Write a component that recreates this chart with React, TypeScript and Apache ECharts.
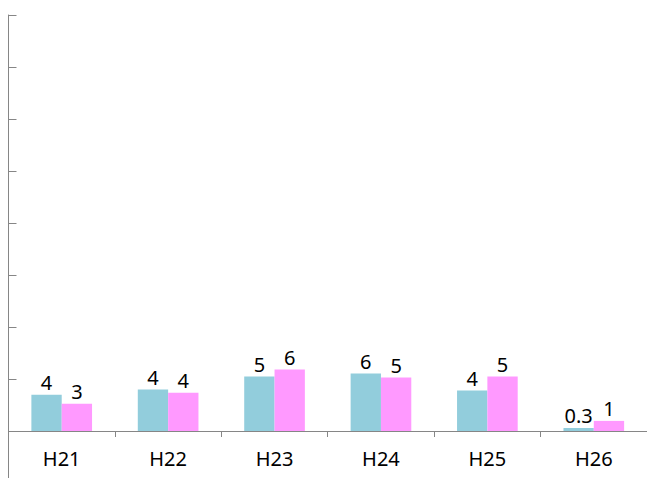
import React, { useEffect, useRef } from "react";
import * as echarts from "echarts";

const categories = ["H21", "H22", "H23", "H24", "H25", "H26"];
const seriesA = [3.6, 4.1, 5.4, 5.7, 4.0, 0.3];
const seriesB = [2.7, 3.8, 6.1, 5.3, 5.4, 1.0];

const fmt = (v: number) => (v >= 1 ? String(Math.round(v)) : String(v));

export default function App() {
  const ref = useRef<HTMLDivElement>(null);
  useEffect(() => {
    if (!ref.current) return;
    const chart = echarts.init(ref.current, null, { renderer: "svg" });
    const axisColor = "#868686";
    const font = "'Noto Sans', 'Open Sans', sans-serif";
    chart.setOption({
      animation: false,
      grid: { left: 8.5, top: 15, width: 640, bottom: 47 },
      xAxis: {
        type: "category",
        data: categories,
        axisLine: { lineStyle: { color: axisColor, width: 1 } },
        axisTick: { show: true, length: 6, lineStyle: { color: axisColor } },
        axisLabel: { color: "#000", fontSize: 20, fontFamily: font, margin: 17 },
      },
      yAxis: {
        type: "value",
        min: 0,
        max: 41.2,
        interval: 5.15,
        axisLine: { show: true, lineStyle: { color: axisColor, width: 1 } },
        axisTick: { show: true, inside: true, length: 8, lineStyle: { color: axisColor } },
        axisLabel: { show: false },
        splitLine: { show: false },
      },
      graphic: [
        {
          type: "line",
          shape: { x1: 8.5, y1: 431, x2: 8.5, y2: 478 },
          style: { stroke: axisColor, lineWidth: 1 },
        },
      ],
      series: [
        {
          type: "bar",
          data: seriesA,
          barGap: "0%",
          barCategoryGap: "43%",
          itemStyle: { color: "#92CDDC" },
          label: {
            show: true,
            position: "top",
            distance: 2,
            color: "#000",
            fontSize: 20,
            fontFamily: font,
            formatter: (p: any) => fmt(p.value),
          },
        },
        {
          type: "bar",
          data: seriesB,
          barGap: "0%",
          barCategoryGap: "43%",
          itemStyle: { color: "#FF99FF" },
          label: {
            show: true,
            position: "top",
            distance: 2,
            color: "#000",
            fontSize: 20,
            fontFamily: font,
            formatter: (p: any) => fmt(p.value),
          },
        },
      ],
    });
    return () => chart.dispose();
  }, []);
  return <div ref={ref} style={{ width: 647, height: 478, position: "absolute", left: 0, top: 0 }} />;
}
